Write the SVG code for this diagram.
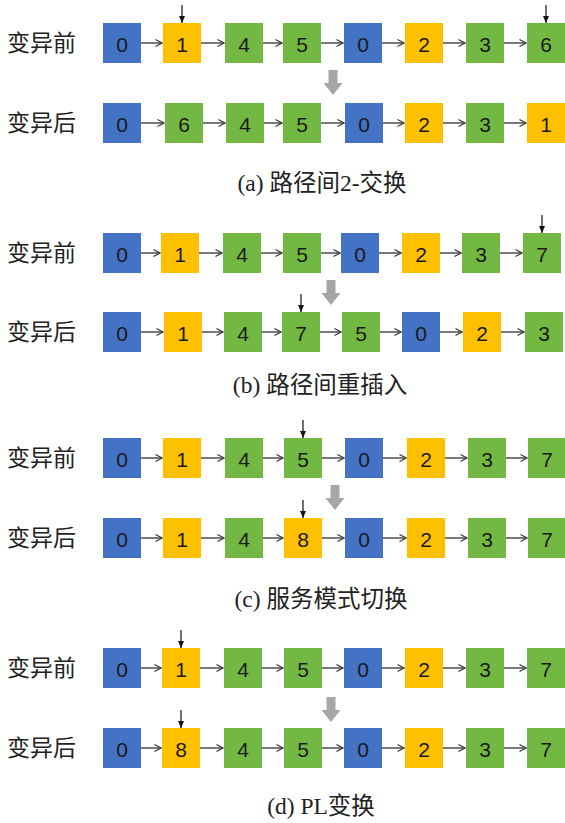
<svg xmlns="http://www.w3.org/2000/svg" width="565" height="823" viewBox="0 0 565 823">
<defs>
<style>
.B{fill:#4472C4}.O{fill:#FFC000}.G{fill:#72B843}
.n{font-family:"Liberation Sans",Arial,sans-serif;font-size:21px;fill:#1a1a1a;text-anchor:middle;dominant-baseline:central}
.lbl{font-family:"Noto Sans CJK SC",sans-serif;font-size:23px;fill:#222}
.cap{font-family:"Liberation Serif","Noto Sans CJK SC",serif;font-size:23.5px;fill:#222;text-anchor:middle}
.c line{stroke:#404040;stroke-width:1.4;marker-end:url(#oa)}
.p line{stroke:#111;stroke-width:1.2;marker-end:url(#fa)}
.g{fill:#A6A6A6}
</style>
<marker id="oa" markerWidth="9" markerHeight="10" refX="8" refY="5" orient="auto" markerUnits="userSpaceOnUse"><path d="M1.5,1.5 L8,5 L1.5,8.5" fill="none" stroke="#404040" stroke-width="1.4"/></marker>
<marker id="fa" markerWidth="8" markerHeight="8" refX="7" refY="4" orient="auto" markerUnits="userSpaceOnUse"><path d="M0,1 L7,4 L0,7 z" fill="#111"/></marker>
</defs>
<rect width="565" height="823" fill="#fff"/>

<g id="labels">
<text class="lbl" x="7" y="51">变异前</text>
<text class="lbl" x="7" y="131">变异后</text>
<text class="lbl" x="7" y="261">变异前</text>
<text class="lbl" x="7" y="340">变异后</text>
<text class="lbl" x="7" y="466">变异前</text>
<text class="lbl" x="7" y="546">变异后</text>
<text class="lbl" x="7" y="676">变异前</text>
<text class="lbl" x="7" y="756">变异后</text>
</g>

<g id="captions">
<text class="cap" x="322" y="191">(a) 路径间2-交换</text>
<text class="cap" x="320" y="393">(b) 路径间重插入</text>
<text class="cap" x="321" y="607">(c) 服务模式切换</text>
<text class="cap" x="321" y="814">(d) PL变换</text>
</g>

<!-- (a) top -->
<g id="a1-0"><rect class="B" x="103" y="23" width="38" height="40"/><text class="n" x="122" y="44">0</text></g>
<g id="a1-1"><rect class="O" x="163" y="23" width="38" height="40"/><text class="n" x="182" y="44">1</text></g>
<g id="a1-2"><rect class="G" x="225" y="23" width="38" height="40"/><text class="n" x="244" y="44">4</text></g>
<g id="a1-3"><rect class="G" x="283" y="23" width="38" height="40"/><text class="n" x="302" y="44">5</text></g>
<g id="a1-4"><rect class="B" x="344" y="23" width="38" height="40"/><text class="n" x="363" y="44">0</text></g>
<g id="a1-5"><rect class="O" x="405" y="23" width="38" height="40"/><text class="n" x="424" y="44">2</text></g>
<g id="a1-6"><rect class="G" x="466" y="23" width="38" height="40"/><text class="n" x="485" y="44">3</text></g>
<g id="a1-7"><rect class="G" x="527" y="23" width="38" height="40"/><text class="n" x="546" y="44">6</text></g>
<!-- (a) bottom -->
<g id="a2-0"><rect class="B" x="103" y="103" width="38" height="40"/><text class="n" x="122" y="124">0</text></g>
<g id="a2-1"><rect class="G" x="165" y="103" width="38" height="40"/><text class="n" x="184" y="124">6</text></g>
<g id="a2-2"><rect class="G" x="226" y="103" width="38" height="40"/><text class="n" x="245" y="124">4</text></g>
<g id="a2-3"><rect class="G" x="283" y="103" width="38" height="40"/><text class="n" x="302" y="124">5</text></g>
<g id="a2-4"><rect class="B" x="345" y="103" width="38" height="40"/><text class="n" x="364" y="124">0</text></g>
<g id="a2-5"><rect class="O" x="405" y="103" width="38" height="40"/><text class="n" x="424" y="124">2</text></g>
<g id="a2-6"><rect class="G" x="466" y="103" width="38" height="40"/><text class="n" x="485" y="124">3</text></g>
<g id="a2-7"><rect class="O" x="527" y="103" width="38" height="40"/><text class="n" x="546" y="124">1</text></g>
<!-- (b) top -->
<g id="b1-0"><rect class="B" x="103" y="233" width="38" height="40"/><text class="n" x="122" y="254">0</text></g>
<g id="b1-1"><rect class="O" x="161" y="233" width="38" height="40"/><text class="n" x="180" y="254">1</text></g>
<g id="b1-2"><rect class="G" x="223" y="233" width="38" height="40"/><text class="n" x="242" y="254">4</text></g>
<g id="b1-3"><rect class="G" x="283" y="233" width="38" height="40"/><text class="n" x="302" y="254">5</text></g>
<g id="b1-4"><rect class="B" x="341" y="233" width="38" height="40"/><text class="n" x="360" y="254">0</text></g>
<g id="b1-5"><rect class="O" x="402" y="233" width="38" height="40"/><text class="n" x="421" y="254">2</text></g>
<g id="b1-6"><rect class="G" x="462" y="233" width="38" height="40"/><text class="n" x="481" y="254">3</text></g>
<g id="b1-7"><rect class="G" x="523" y="233" width="38" height="40"/><text class="n" x="542" y="254">7</text></g>
<!-- (b) bottom -->
<g id="b2-0"><rect class="B" x="103" y="312" width="38" height="40"/><text class="n" x="122" y="333">0</text></g>
<g id="b2-1"><rect class="O" x="164" y="312" width="38" height="40"/><text class="n" x="183" y="333">1</text></g>
<g id="b2-2"><rect class="G" x="224" y="312" width="38" height="40"/><text class="n" x="243" y="333">4</text></g>
<g id="b2-3"><rect class="G" x="282" y="312" width="38" height="40"/><text class="n" x="301" y="333">7</text></g>
<g id="b2-4"><rect class="G" x="342" y="312" width="38" height="40"/><text class="n" x="361" y="333">5</text></g>
<g id="b2-5"><rect class="B" x="402" y="312" width="38" height="40"/><text class="n" x="421" y="333">0</text></g>
<g id="b2-6"><rect class="O" x="463" y="312" width="38" height="40"/><text class="n" x="482" y="333">2</text></g>
<g id="b2-7"><rect class="G" x="525" y="312" width="38" height="40"/><text class="n" x="544" y="333">3</text></g>
<!-- (c) top -->
<g id="c1-0"><rect class="B" x="103" y="438" width="38" height="40"/><text class="n" x="122" y="459">0</text></g>
<g id="c1-1"><rect class="O" x="163" y="438" width="38" height="40"/><text class="n" x="182" y="459">1</text></g>
<g id="c1-2"><rect class="G" x="225" y="438" width="38" height="40"/><text class="n" x="244" y="459">4</text></g>
<g id="c1-3"><rect class="G" x="284" y="438" width="38" height="40"/><text class="n" x="303" y="459">5</text></g>
<g id="c1-4"><rect class="B" x="345" y="438" width="38" height="40"/><text class="n" x="364" y="459">0</text></g>
<g id="c1-5"><rect class="O" x="407" y="438" width="38" height="40"/><text class="n" x="426" y="459">2</text></g>
<g id="c1-6"><rect class="G" x="468" y="438" width="38" height="40"/><text class="n" x="487" y="459">3</text></g>
<g id="c1-7"><rect class="G" x="528" y="438" width="37" height="40"/><text class="n" x="547" y="459">7</text></g>
<!-- (c) bottom -->
<g id="c2-0"><rect class="B" x="103" y="518" width="38" height="40"/><text class="n" x="122" y="539">0</text></g>
<g id="c2-1"><rect class="O" x="163" y="518" width="38" height="40"/><text class="n" x="182" y="539">1</text></g>
<g id="c2-2"><rect class="G" x="225" y="518" width="38" height="40"/><text class="n" x="244" y="539">4</text></g>
<g id="c2-3"><rect class="O" x="284" y="518" width="38" height="40"/><text class="n" x="303" y="539">8</text></g>
<g id="c2-4"><rect class="B" x="345" y="518" width="38" height="40"/><text class="n" x="364" y="539">0</text></g>
<g id="c2-5"><rect class="O" x="407" y="518" width="38" height="40"/><text class="n" x="426" y="539">2</text></g>
<g id="c2-6"><rect class="G" x="468" y="518" width="38" height="40"/><text class="n" x="487" y="539">3</text></g>
<g id="c2-7"><rect class="G" x="528" y="518" width="37" height="40"/><text class="n" x="547" y="539">7</text></g>
<!-- (d) top -->
<g id="d1-0"><rect class="B" x="103" y="648" width="38" height="40"/><text class="n" x="122" y="669">0</text></g>
<g id="d1-1"><rect class="O" x="162" y="648" width="38" height="40"/><text class="n" x="181" y="669">1</text></g>
<g id="d1-2"><rect class="G" x="224" y="648" width="38" height="40"/><text class="n" x="243" y="669">4</text></g>
<g id="d1-3"><rect class="G" x="284" y="648" width="38" height="40"/><text class="n" x="303" y="669">5</text></g>
<g id="d1-4"><rect class="B" x="344" y="648" width="38" height="40"/><text class="n" x="363" y="669">0</text></g>
<g id="d1-5"><rect class="O" x="405" y="648" width="38" height="40"/><text class="n" x="424" y="669">2</text></g>
<g id="d1-6"><rect class="G" x="466" y="648" width="38" height="40"/><text class="n" x="485" y="669">3</text></g>
<g id="d1-7"><rect class="G" x="527" y="648" width="38" height="40"/><text class="n" x="546" y="669">7</text></g>
<!-- (d) bottom -->
<g id="d2-0"><rect class="B" x="103" y="728" width="38" height="40"/><text class="n" x="122" y="749">0</text></g>
<g id="d2-1"><rect class="O" x="162" y="728" width="38" height="40"/><text class="n" x="181" y="749">8</text></g>
<g id="d2-2"><rect class="G" x="224" y="728" width="38" height="40"/><text class="n" x="243" y="749">4</text></g>
<g id="d2-3"><rect class="G" x="284" y="728" width="38" height="40"/><text class="n" x="303" y="749">5</text></g>
<g id="d2-4"><rect class="B" x="344" y="728" width="38" height="40"/><text class="n" x="363" y="749">0</text></g>
<g id="d2-5"><rect class="O" x="405" y="728" width="38" height="40"/><text class="n" x="424" y="749">2</text></g>
<g id="d2-6"><rect class="G" x="466" y="728" width="38" height="40"/><text class="n" x="485" y="749">3</text></g>
<g id="d2-7"><rect class="G" x="527" y="728" width="38" height="40"/><text class="n" x="546" y="749">7</text></g>

<g id="connectors" class="c">
<line x1="141" y1="43" x2="162" y2="43"/><line x1="201" y1="43" x2="224" y2="43"/><line x1="263" y1="43" x2="282" y2="43"/><line x1="321" y1="43" x2="343" y2="43"/><line x1="382" y1="43" x2="404" y2="43"/><line x1="443" y1="43" x2="465" y2="43"/><line x1="504" y1="43" x2="526" y2="43"/>
<line x1="141" y1="123" x2="164" y2="123"/><line x1="203" y1="123" x2="225" y2="123"/><line x1="264" y1="123" x2="282" y2="123"/><line x1="321" y1="123" x2="344" y2="123"/><line x1="383" y1="123" x2="404" y2="123"/><line x1="443" y1="123" x2="465" y2="123"/><line x1="504" y1="123" x2="526" y2="123"/>
<line x1="141" y1="253" x2="160" y2="253"/><line x1="199" y1="253" x2="222" y2="253"/><line x1="261" y1="253" x2="282" y2="253"/><line x1="321" y1="253" x2="340" y2="253"/><line x1="379" y1="253" x2="401" y2="253"/><line x1="440" y1="253" x2="461" y2="253"/><line x1="500" y1="253" x2="522" y2="253"/>
<line x1="141" y1="332" x2="163" y2="332"/><line x1="202" y1="332" x2="223" y2="332"/><line x1="262" y1="332" x2="281" y2="332"/><line x1="320" y1="332" x2="341" y2="332"/><line x1="380" y1="332" x2="401" y2="332"/><line x1="440" y1="332" x2="462" y2="332"/><line x1="501" y1="332" x2="524" y2="332"/>
<line x1="141" y1="458" x2="162" y2="458"/><line x1="201" y1="458" x2="224" y2="458"/><line x1="263" y1="458" x2="283" y2="458"/><line x1="322" y1="458" x2="344" y2="458"/><line x1="383" y1="458" x2="406" y2="458"/><line x1="445" y1="458" x2="467" y2="458"/><line x1="506" y1="458" x2="527" y2="458"/>
<line x1="141" y1="538" x2="162" y2="538"/><line x1="201" y1="538" x2="224" y2="538"/><line x1="263" y1="538" x2="283" y2="538"/><line x1="322" y1="538" x2="344" y2="538"/><line x1="383" y1="538" x2="406" y2="538"/><line x1="445" y1="538" x2="467" y2="538"/><line x1="506" y1="538" x2="527" y2="538"/>
<line x1="141" y1="668" x2="161" y2="668"/><line x1="200" y1="668" x2="223" y2="668"/><line x1="262" y1="668" x2="283" y2="668"/><line x1="322" y1="668" x2="343" y2="668"/><line x1="382" y1="668" x2="404" y2="668"/><line x1="443" y1="668" x2="465" y2="668"/><line x1="504" y1="668" x2="526" y2="668"/>
<line x1="141" y1="748" x2="161" y2="748"/><line x1="200" y1="748" x2="223" y2="748"/><line x1="262" y1="748" x2="283" y2="748"/><line x1="322" y1="748" x2="343" y2="748"/><line x1="382" y1="748" x2="404" y2="748"/><line x1="443" y1="748" x2="465" y2="748"/><line x1="504" y1="748" x2="526" y2="748"/>
</g>

<g id="pointers" class="p">
<line x1="182" y1="5" x2="182" y2="23"/><line x1="546" y1="5" x2="546" y2="23"/>
<line x1="542" y1="215" x2="542" y2="233"/><line x1="301" y1="294" x2="301" y2="312"/>
<line x1="303" y1="420" x2="303" y2="438"/><line x1="303" y1="500" x2="303" y2="518"/>
<line x1="181" y1="630" x2="181" y2="648"/><line x1="181" y1="710" x2="181" y2="728"/>
</g>

<g id="transitions">
<path class="g" d="M328.5,70 h9 v13 h5 l-9.5,12 l-9.5,-12 h5 z"/>
<path class="g" d="M326.5,280 h9 v13 h5 l-9.5,12 l-9.5,-12 h5 z"/>
<path class="g" d="M330.5,485 h9 v13 h5 l-9.5,12 l-9.5,-12 h5 z"/>
<path class="g" d="M326.5,697 h9 v13 h5 l-9.5,12 l-9.5,-12 h5 z"/>
</g>
</svg>
